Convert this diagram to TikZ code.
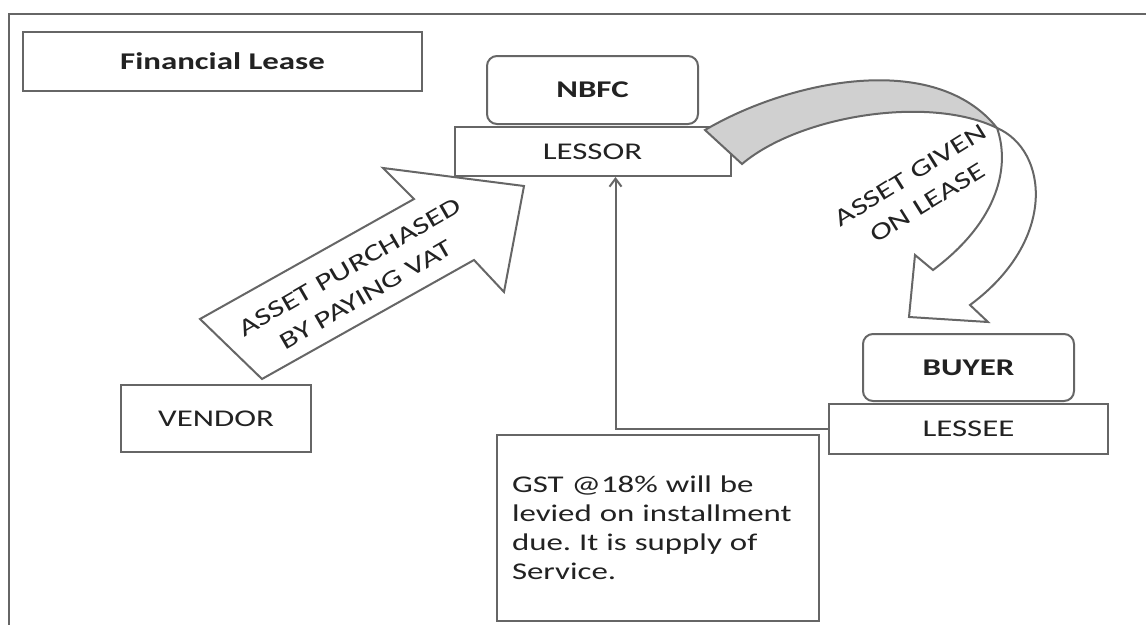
\documentclass[tikz,border=0pt]{standalone}
\usepackage{fontspec}
\setmainfont{Carlito}[FakeStretch=1.37]
\usepackage{tikz}
\usetikzlibrary{arrows.meta, positioning}
\definecolor{linegray}{HTML}{666666}
\definecolor{bandgray}{HTML}{D0D0D0}
\definecolor{inkgray}{HTML}{222222}
\newcommand\diagfont{\fontsize{24}{29}\selectfont}
\frenchspacing

\tikzset{
  box/.style={draw=linegray, line width=2pt, fill=white, text=inkgray, inner sep=0pt, font=\diagfont},
  titlebox/.style={box, font=\diagfont\bfseries},
  roundbox/.style={box, rounded corners=10pt, font=\diagfont\bfseries},
  bigarrow/.style={draw=linegray, line width=2pt, line join=miter},
  arrowlabel/.style={text=inkgray, align=center, inner sep=0pt, font=\fontsize{24}{32}\selectfont},
  flow/.style={draw=linegray, line width=2pt, -{Straight Barb[length=8pt,width=12pt]}},
}

\begin{document}
\begin{tikzpicture}[x=1pt, y=-1pt]
    \useasboundingbox (0,0) rectangle (1146,624);
    \begin{scope}
      \clip (0,0) rectangle (1146,624);
      \draw[linegray, line width=2.5pt] (9,14) rectangle (1170,650);
    \end{scope}

    \node[titlebox, minimum width=399pt, minimum height=59pt, anchor=north west]
      (title) at (22,31) {Financial Lease};

    \node[roundbox, minimum width=211pt, minimum height=68pt, anchor=north west]
      (nbfc) at (486,55) {NBFC};
    \node[box, minimum width=276pt, minimum height=49pt, below=1pt of nbfc]
      (lessor) {LESSOR};

    \node[box, minimum width=190pt, minimum height=67pt, anchor=north west]
      (vendor) at (120,384) {VENDOR};

    \node[roundbox, minimum width=211pt, minimum height=67pt, anchor=north west]
      (buyer) at (862,333) {BUYER};
    \node[box, minimum width=279pt, minimum height=50pt, below=1pt of buyer]
      (lessee) {LESSEE};

    \node[box, minimum width=322pt, minimum height=186pt, text width=292pt,
          inner xsep=15pt, align=left, anchor=north west]
      (gst) at (496,434) {GST @18\% will be\\levied on installment\\due. It is supply of\\Service.};

    \draw[flow] (lessee.west) -| ([xshift=23pt]lessor.south);

    \draw[bigarrow, fill=white] (200,319) -- (414,199) -- (383,168) -- (524,186)
      -- (504,292) -- (474,260) -- (262,379) -- cycle;
    \node[arrowlabel, rotate=30] (purchlbl) at (358,281) {ASSET PURCHASED\\BY PAYING VAT};

    \draw[bigarrow, fill=bandgray] (705,130) .. controls (790,80) and (935,50) .. (997,128)
      .. controls (930,95) and (800,115) .. (742,164) -- cycle;
    \draw[bigarrow, fill=white] (997,128) .. controls (1048,150) and (1058,240) .. (970,305)
      -- (988,322) -- (909,317) -- (915,255) -- (933,270)
      .. controls (1000,220) and (1010,165) .. (997,128) -- cycle;
    \node[arrowlabel, rotate=32] (leaselbl) at (919,189) {ASSET GIVEN\\ON LEASE};
\end{tikzpicture}
\end{document}
